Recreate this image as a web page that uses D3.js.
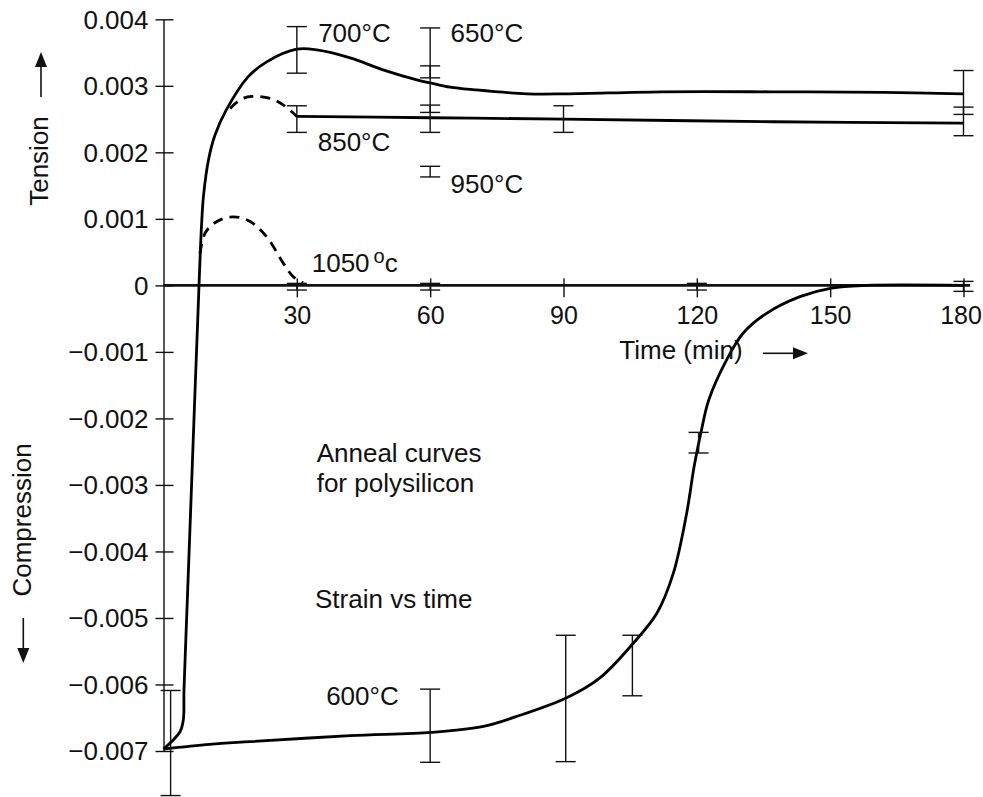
<!DOCTYPE html>
<html><head><meta charset="utf-8">
<script src="https://cdn.jsdelivr.net/npm/d3@7"></script>
<style>
body{margin:0;background:#fff}
text{font-family:"Liberation Sans",Arial,Helvetica,sans-serif;fill:#111}
</style>
</head><body>
<svg id="chart" width="983" height="797"></svg>
<script>
// ---------- data ----------
const xTicks = [30, 60, 90, 120, 150, 180];
const xTickLabels = ["30", "60", "90", "120", "150", "180"];
const yTicks = [0.004, 0.003, 0.002, 0.001, 0, -0.001, -0.002, -0.003, -0.004, -0.005, -0.006, -0.007];
const yTickLabels = ["0.004", "0.003", "0.002", "0.001", "0", "\u22120.001", "\u22120.002", "\u22120.003", "\u22120.004", "\u22120.005", "\u22120.006", "\u22120.007"];

// 700/650 °C curve (solid)
const t700 = [0, 3.71, 4.46, 4.61, 5.36, 6.19, 7.02, 7.70, 7.99, 8.30, 8.62, 9.02, 10.13, 11.59, 14.07, 18.97, 23.22, 29.97, 34.5, 42, 49.4, 57, 60.3, 64.5, 70, 81.8, 91, 112, 137, 162, 180];
const v700 = [-0.00697, -0.00671, -0.00653, -0.00608, -0.00473, -0.00323, -0.00172, -0.00052, 0, 0.00053, 0.00098, 0.00136, 0.00189, 0.00226, 0.00263, 0.00313, 0.00336, 0.00355, 0.00354, 0.00342, 0.00324, 0.00309, 0.00304, 0.00298, 0.00294, 0.00288, 0.00288, 0.00291, 0.00291, 0.0029, 0.00288];

// 850 °C: dashed part then solid part
const t850d = [15, 17.5, 20, 24, 27, 30];
const v850d = [0.00266, 0.0028, 0.00284, 0.00281, 0.00271, 0.00254];
const t850 = [30, 60, 90, 137, 180];
const v850 = [0.00254, 0.00252, 0.0025, 0.00246, 0.00244];

// 1050 °C dashed
const t1050 = [8.2, 9.4, 12, 15.7, 19.5, 23.2, 27, 29.2, 31.4];
const v1050 = [0.00048, 0.00079, 0.00096, 0.00103, 0.00096, 0.00073, 0.00033, 0.00013, 0.00004];

// 600 °C solid
const t600 = [0, 10.4, 19.5, 42, 60.3, 72, 79.5, 90.7, 98.2, 105.7, 111, 114.7, 117.7, 119.4, 120.9, 122.7, 126.7, 130.4, 135.7, 143.2, 150.3, 158.2, 180];
const v600 = [-0.00697, -0.0069, -0.00686, -0.00677, -0.00672, -0.00663, -0.00648, -0.0062, -0.0059, -0.00538, -0.00493, -0.00433, -0.00343, -0.00272, -0.00222, -0.00172, -0.00112, -0.00072, -0.00042, -0.00017, -0.00004, 0, 0];

// error bars
const errT  = [30, 30, 30, 60, 60, 60, 60, 60, 90, 120, 180, 180, 180, 1.6, 60, 90.5, 105.5, 120.4];
const errHi = [0.00389, 0.0027, 0.00003, 0.00387, 0.0033, 0.00271, 0.00179, 0.00003, 0.0027, 0.00003, 0.00323, 0.00268, 0.00006, -0.00609, -0.00607, -0.00526, -0.00526, -0.00221];
const errLo = [0.00319, 0.0023, -0.00007, 0.00312, 0.0026, 0.0023, 0.00163, -0.00007, 0.0023, -0.00007, 0.00257, 0.00225, -0.00009, -0.00767, -0.00717, -0.00716, -0.00617, -0.00252];

// curve labels
const labelText = ["700°C", "650°C", "850°C", "950°C", "600°C"];
const labelT = [34.8, 64.6, 34.7, 64.6, 36.6];
const labelV = [0.003665, 0.003665, 0.002026, 0.001386, -0.006306];

// ---------- drawing ----------
const svg = d3.select("#chart");
svg.append("rect").attr("width", 983).attr("height", 797).attr("fill", "#fff");

const x = d3.scaleLinear().domain([0, 180]).range([163.5, 963.5]);
const y = d3.scaleLinear().domain([-0.007, 0.004]).range([751, 19.3]);

// y axis
const yAxis = svg.append("g").attr("transform", `translate(${x(0)},0)`)
  .call(d3.axisLeft(y).tickValues(yTicks).tickSizeInner(8).tickSizeOuter(0).tickPadding(7)
    .tickFormat((d, i) => yTickLabels[i]));
yAxis.select(".domain").attr("stroke", "#111").attr("stroke-width", 1.4);
yAxis.selectAll(".tick line").attr("x1", 10).attr("stroke", "#111").attr("stroke-width", 1.4);
yAxis.selectAll(".tick text").attr("font-size", 26).attr("fill", "#111")
  .attr("font-family", '"Liberation Sans",Arial,sans-serif').attr("dy", "0.34em");

// zero line (thick)
svg.append("line").attr("x1", x(0)).attr("x2", x(181.5)).attr("y1", y(0)).attr("y2", y(0))
  .attr("stroke", "#111").attr("stroke-width", 2.8);

// x axis ticks
const xAxis = svg.append("g").attr("transform", `translate(0,${y(0)})`)
  .call(d3.axisBottom(x).tickValues(xTicks).tickSizeInner(12).tickSizeOuter(0).tickPadding(3)
    .tickFormat((d, i) => xTickLabels[i]));
xAxis.select(".domain").remove();
xAxis.selectAll(".tick line").attr("y1", -7).attr("stroke", "#111").attr("stroke-width", 1.4);
xAxis.selectAll(".tick text").attr("font-size", 25).attr("fill", "#111")
  .attr("font-family", '"Liberation Sans",Arial,sans-serif').attr("y", 21).attr("dy", "0.71em")
  .attr("dx", (d, i) => i === xTicks.length - 1 ? -3 : 0);

// curves
const line = d3.line().x(d => x(d[0])).y(d => y(d[1])).curve(d3.curveCatmullRom.alpha(0.5));
function drawCurve(ts, vs, dashed) {
  svg.append("path").datum(ts.map((t, i) => [t, vs[i]]))
    .attr("d", line).attr("fill", "none").attr("stroke", "#000")
    .attr("stroke-width", 2.8).attr("stroke-linejoin", "round")
    .attr("stroke-dasharray", dashed ? "10,7" : null);
}
drawCurve(t700, v700, false);
drawCurve(t850d, v850d, true);
drawCurve(t850, v850, false);
drawCurve(t1050, v1050, true);
drawCurve(t600, v600, false);

// error bars
const cap = 10;
const eb = svg.append("g").attr("stroke", "#111").attr("stroke-width", 1.4);
errT.forEach((t, i) => {
  const cx = x(t), y1 = y(errHi[i]), y2 = y(errLo[i]);
  eb.append("line").attr("x1", cx).attr("x2", cx).attr("y1", y1).attr("y2", y2);
  eb.append("line").attr("x1", cx - cap).attr("x2", cx + cap).attr("y1", y1).attr("y2", y1);
  eb.append("line").attr("x1", cx - cap).attr("x2", cx + cap).attr("y1", y2).attr("y2", y2);
});

// curve labels
labelText.forEach((s, i) => {
  svg.append("text").attr("x", x(labelT[i])).attr("y", y(labelV[i])).attr("font-size", 26).text(s);
});
const l1050 = svg.append("text").attr("x", x(33.35)).attr("y", y(0.000203)).attr("font-size", 26);
l1050.append("tspan").text("1050");
l1050.append("tspan").attr("dx", 4).attr("dy", -9).attr("font-size", 20).text("o");
l1050.append("tspan").attr("dy", 9).text("c");

// annotations
svg.append("text").attr("x", 316.7).attr("y", 461.7).attr("font-size", 26).text("Anneal curves");
svg.append("text").attr("x", 316.7).attr("y", 491.7).attr("font-size", 26).text("for polysilicon");
svg.append("text").attr("x", 315).attr("y", 608.3).attr("font-size", 26).text("Strain vs time");
svg.append("text").attr("x", 619.3).attr("y", 358.5).attr("font-size", 26).text("Time (min)");
svg.append("text").attr("transform", "translate(48,161) rotate(-90)").attr("text-anchor", "middle")
  .attr("font-size", 26).text("Tension");
svg.append("text").attr("transform", "translate(31,520) rotate(-90)").attr("text-anchor", "middle")
  .attr("font-size", 26).text("Compression");

// arrows
function arrow(x1, y1, x2, y2) {
  const ang = Math.atan2(y2 - y1, x2 - x1);
  const L = 15, W = 6;
  const bx = x2 - L * Math.cos(ang), by = y2 - L * Math.sin(ang);
  svg.append("line").attr("x1", x1).attr("y1", y1).attr("x2", bx).attr("y2", by)
    .attr("stroke", "#111").attr("stroke-width", 1.6);
  const px = -Math.sin(ang) * W, py = Math.cos(ang) * W;
  svg.append("path").attr("d", `M${x2},${y2}L${bx + px},${by + py}L${bx - px},${by - py}Z`).attr("fill", "#111");
}
arrow(41, 97, 41, 52);
arrow(23.3, 618, 23.3, 663);
arrow(763, 353.3, 808, 353.3);
</script>
</body></html>
